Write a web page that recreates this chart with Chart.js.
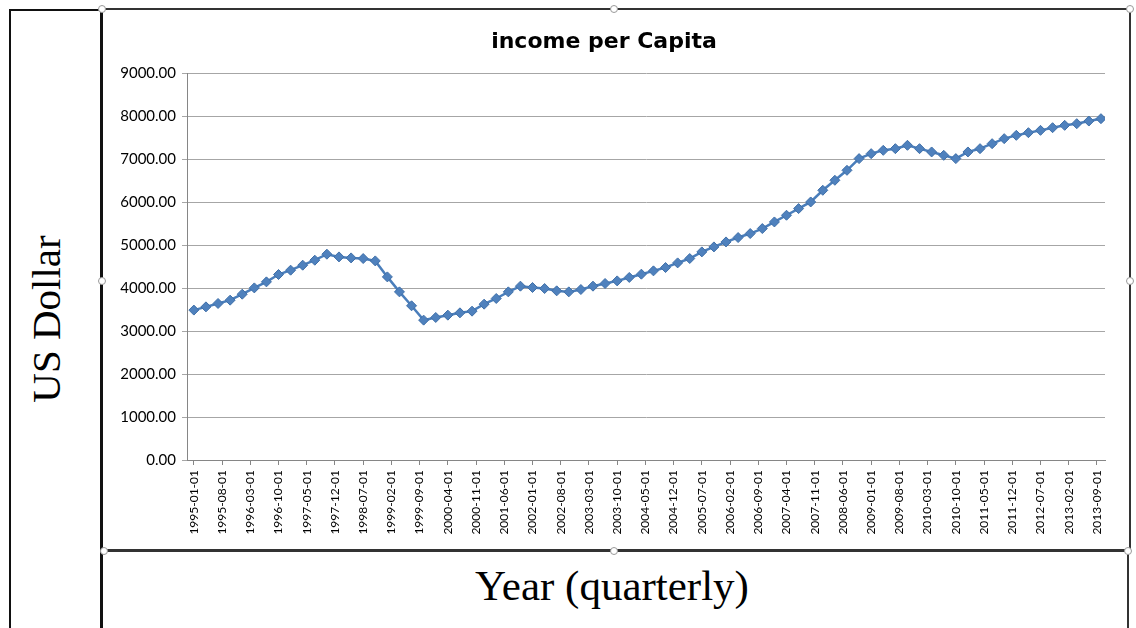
<!DOCTYPE html>
<html>
<head>
<meta charset="utf-8">
<script src="https://cdn.jsdelivr.net/npm/chart.js@4/dist/chart.umd.min.js"></script>
<style>
  html, body { margin: 0; padding: 0; background: #fff; }
  body { width: 1136px; height: 628px; position: relative; overflow: hidden; }
  .ln { position: absolute; background: #111; }
  #wrap { position: absolute; left: 103px; top: 11px; width: 1025px; height: 537px; }
  .ytitle { position: absolute; left: 46px; top: 319px; transform: translate(-50%, -50%) rotate(-90deg);
            font-family: "Liberation Serif", "Times New Roman", serif; font-size: 41px; color: #000; white-space: nowrap; }
  .xtitle { position: absolute; left: 612px; top: 585px; transform: translate(-50%, -50%);
            font-family: "Liberation Serif", "Times New Roman", serif; font-size: 43px; color: #000; white-space: nowrap; }
  .h { position: absolute; width: 6px; height: 6px; border-radius: 50%; background: #fff; border: 1px solid #999; transform: translate(-50%, -50%); }
</style>
</head>
<body>
<!-- frame lines -->
<div class="ln" style="left:9px;top:9px;width:2px;height:619px;"></div>
<div class="ln" style="left:9px;top:9px;width:93px;height:2px;"></div>
<div class="ln" style="left:100px;top:9px;width:3px;height:619px;"></div>
<div class="ln" style="left:102px;top:8px;width:1028px;height:2px;background:#333;"></div>
<div class="ln" style="left:1129px;top:8px;width:2px;height:543px;background:#333;"></div>
<div class="ln" style="left:102px;top:549px;width:1029px;height:3px;background:#333;"></div>
<div class="ln" style="left:1127px;top:551px;width:2px;height:77px;background:#333;"></div>

<div class="ytitle">US Dollar</div>
<div class="xtitle">Year (quarterly)</div>

<div id="wrap"><canvas id="c"></canvas></div>

<div class="h" style="left:102px;top:9px;"></div>
<div class="h" style="left:614px;top:9px;"></div>
<div class="h" style="left:1130px;top:9px;"></div>
<div class="h" style="left:102px;top:281px;"></div>
<div class="h" style="left:1130px;top:281px;"></div>
<div class="h" style="left:104px;top:551px;"></div>
<div class="h" style="left:614px;top:551px;"></div>
<div class="h" style="left:1128px;top:551px;"></div>

<script>
// ---- data ----
const quarters = [
  "1995-01","1995-04","1995-07","1995-10","1996-01","1996-04","1996-07","1996-10",
  "1997-01","1997-04","1997-07","1997-10","1998-01","1998-04","1998-07","1998-10",
  "1999-01","1999-04","1999-07","1999-10","2000-01","2000-04","2000-07","2000-10",
  "2001-01","2001-04","2001-07","2001-10","2002-01","2002-04","2002-07","2002-10",
  "2003-01","2003-04","2003-07","2003-10","2004-01","2004-04","2004-07","2004-10",
  "2005-01","2005-04","2005-07","2005-10","2006-01","2006-04","2006-07","2006-10",
  "2007-01","2007-04","2007-07","2007-10","2008-01","2008-04","2008-07","2008-10",
  "2009-01","2009-04","2009-07","2009-10","2010-01","2010-04","2010-07","2010-10",
  "2011-01","2011-04","2011-07","2011-10","2012-01","2012-04","2012-07","2012-10",
  "2013-01","2013-04","2013-07","2013-10"
];
const incomePerCapita = [
  3490, 3565, 3644, 3721, 3860, 4007, 4147, 4318, 4419, 4535,
  4651, 4791, 4728, 4705, 4690, 4635, 4263, 3914, 3590, 3256,
  3318, 3372, 3426, 3465, 3628, 3760, 3914, 4047, 4016, 3992,
  3938, 3914, 3969, 4047, 4109, 4170, 4250, 4326, 4403, 4481,
  4589, 4690, 4845, 4961, 5077, 5179, 5272, 5388, 5542, 5698,
  5853, 6007, 6279, 6512, 6744, 7016, 7132, 7209, 7248, 7326,
  7248, 7171, 7093, 7016, 7171, 7248, 7364, 7481, 7558, 7620,
  7674, 7736, 7791, 7830, 7891, 7946
];
const tickLabels = [
  "1995-01-01","1995-08-01","1996-03-01","1996-10-01","1997-05-01","1997-12-01",
  "1998-07-01","1999-02-01","1999-09-01","2000-04-01","2000-11-01","2001-06-01",
  "2002-01-01","2002-08-01","2003-03-01","2003-10-01","2004-05-01","2004-12-01",
  "2005-07-01","2006-02-01","2006-09-01","2007-04-01","2007-11-01","2008-06-01",
  "2009-01-01","2009-08-01","2010-03-01","2010-10-01","2011-05-01","2011-12-01",
  "2012-07-01","2013-02-01","2013-09-01"
];
const yTicks = [0, 1000, 2000, 3000, 4000, 5000, 6000, 7000, 8000, 9000];

// months since 1995-01
function monthIndex(s) {
  const p = s.split("-");
  return (parseInt(p[0], 10) - 1995) * 12 + (parseInt(p[1], 10) - 1);
}
const points = quarters.map((q, i) => ({ x: monthIndex(q), y: incomePerCapita[i] }));
const tickMonths = tickLabels.map(monthIndex);

const blue = "#4a7ebb";
new Chart(document.getElementById("c"), {
  type: "line",
  data: {
    datasets: [{
      label: "income per Capita",
      data: points,
      borderColor: blue,
      backgroundColor: blue,
      borderWidth: 2.5,
      pointStyle: "rectRot",
      pointRadius: 5,
      pointBorderWidth: 1,
      pointBackgroundColor: "#4f81bd",
      pointBorderColor: "#3f6fa8",
      tension: 0
    }]
  },
  options: {
    responsive: true,
    maintainAspectRatio: false,
    animation: false,
    layout: { padding: { left: 0, right: 23, top: 0, bottom: 0 } },
    plugins: {
      legend: { display: false },
      tooltip: { enabled: false },
      title: {
        display: true,
        text: "income per Capita",
        color: "#000",
        font: { family: "'DejaVu Sans', sans-serif", size: 22, weight: "bold", lineHeight: 1.2 },
        padding: { top: 18, bottom: 18 }
      }
    },
    scales: {
      x: {
        type: "linear",
        min: -1.7,
        max: 226,
        afterBuildTicks: (s) => { s.ticks = tickMonths.map(v => ({ value: v })); },
        afterFit: (s) => { s.height = 88; },
        ticks: {
          autoSkip: false,
          minRotation: 90,
          maxRotation: 90,
          padding: 5,
          color: "#000",
          font: { family: "Lato, 'Open Sans', sans-serif", size: 12 },
          callback: (v, i) => tickLabels[i]
        },
        grid: { drawOnChartArea: false, drawTicks: true, tickLength: 5, color: "#868686" },
        border: { color: "#868686", width: 1 }
      },
      y: {
        min: 0,
        max: 9000,
        afterBuildTicks: (s) => { s.ticks = yTicks.map(v => ({ value: v })); },
        afterFit: (s) => { s.width = 84; },
        ticks: {
          padding: 6,
          color: "#000",
          font: { family: "Lato, 'Open Sans', sans-serif", size: 15 },
          callback: (v) => Number(v).toFixed(2)
        },
        grid: { color: "#a6a6a6", lineWidth: 1, tickLength: 5, drawTicks: true },
        border: { color: "#868686", width: 1 }
      }
    }
  }
});
</script>
</body>
</html>
